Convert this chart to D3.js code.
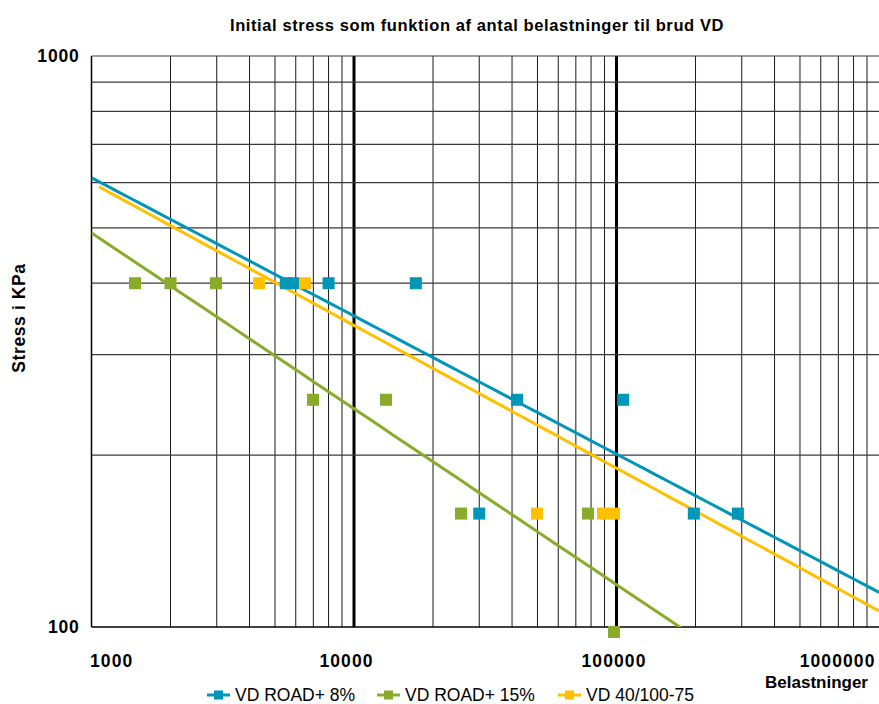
<!DOCTYPE html>
<html>
<head>
<meta charset="utf-8">
<script src="https://cdn.jsdelivr.net/npm/d3@7"></script>
<style>
  body { margin: 0; background: #fff; }
  svg { font-family: "Liberation Sans", Arial, sans-serif; }
</style>
</head>
<body>
<svg width="879" height="704"></svg>
<script>
// series
var seriesNames = ['VD ROAD+ 8%', 'VD ROAD+ 15%', 'VD 40/100-75'];
var seriesColors = ['#0096b8', '#8aab2a', '#ffc000'];

var road8N = [5500, 5900, 8000, 17200, 41800, 106000, 30000, 197000, 290000];
var road8S = [400, 400, 400, 400, 250, 250, 158, 158, 158];

var road15N = [1465, 2000, 2980, 6980, 13240, 25560, 77900, 97800];
var road15S = [400, 400, 400, 250, 250, 158, 158, 98];

var vd40N = [4350, 6500, 49800, 88800, 97800];
var vd40S = [400, 400, 158, 158, 158];

// power trendlines S = a * (N/1000)^b, with start of each line
var trendA = [612, 490, 600];
var trendB = [-0.242, -0.308, -0.25];
var trendStart = [1000, 1000, 1068];

var xTicks = [1000, 10000, 100000, 1000000];
var yTicks = [100, 1000];

var allN = [road8N, road15N, vd40N];
var allS = [road8S, road15S, vd40S];

var L = 91.5, R = 879, T = 56, B = 627;
var svg = d3.select('svg');

var x = d3.scaleLog().domain([1000, 1000000]).range([L, R]);
var y = d3.scaleLog().domain([100, 1000]).range([B, T]);

svg.append('defs').append('clipPath').attr('id', 'plot')
    .append('rect').attr('x', L).attr('y', T).attr('width', R - L).attr('height', B - T);

// grid
var grid = svg.append('g');
[100, 1000, 10000, 100000].forEach(function (dec) {
    for (var k = 2; k <= 9; k++) {
        var v = dec * k;
        if (v < 1000) continue;
        grid.append('line')
            .attr('x1', x(v)).attr('x2', x(v))
            .attr('y1', T).attr('y2', B)
            .attr('stroke', '#1a1a1a').attr('stroke-width', 1);
    }
});
[10000, 100000].forEach(function (v) {
    grid.append('line')
        .attr('x1', x(v)).attr('x2', x(v))
        .attr('y1', T).attr('y2', B)
        .attr('stroke', '#000').attr('stroke-width', 3);
});
for (var k = 2; k <= 10; k++) {
    grid.append('line')
        .attr('x1', L).attr('x2', R)
        .attr('y1', y(k * 100)).attr('y2', y(k * 100))
        .attr('stroke', '#3a3a3a').attr('stroke-width', 1.2);
}

// axes lines
svg.append('line').attr('x1', L).attr('x2', L).attr('y1', T).attr('y2', B)
    .attr('stroke', '#000').attr('stroke-width', 1.5);
svg.append('line').attr('x1', L).attr('x2', R).attr('y1', B).attr('y2', B)
    .attr('stroke', '#000').attr('stroke-width', 1.5);

// trendlines
var trends = svg.append('g').attr('clip-path', 'url(#plot)');
seriesNames.forEach(function (name, i) {
    var pts = d3.range(0, 61).map(function (j) {
        var n = trendStart[i] * Math.pow(1000000 / trendStart[i], j / 60);
        return [n, trendA[i] * Math.pow(n / 1000, trendB[i])];
    });
    trends.append('path')
        .attr('d', d3.line().x(function (d) { return x(d[0]); }).y(function (d) { return y(d[1]); })(pts))
        .attr('fill', 'none')
        .attr('stroke', seriesColors[i])
        .attr('stroke-width', 3);
});

// markers
seriesNames.forEach(function (name, i) {
    svg.append('g').selectAll('rect')
        .data(allN[i].map(function (n, j) { return [n, allS[i][j]]; }))
        .enter().append('rect')
        .attr('x', function (d) { return x(d[0]) - 6; })
        .attr('y', function (d) { return y(d[1]) - 6; })
        .attr('width', 12).attr('height', 12)
        .attr('fill', seriesColors[i]);
});

// x axis labels
var xAxis = d3.axisBottom(x).tickValues(xTicks).tickFormat(d3.format('d')).tickSize(0);
var gx = svg.append('g').attr('transform', 'translate(0,' + B + ')').call(xAxis);
gx.select('.domain').remove();
gx.selectAll('text')
    .attr('y', 28)
    .attr('font-size', 17.5).attr('font-weight', 'bold').attr('fill', '#000')
    .attr('letter-spacing', 1.1)
    .attr('font-family', '"Liberation Sans", Arial, sans-serif')
    .attr('text-anchor', function (d, i) { return i === 0 ? 'start' : (i === xTicks.length - 1 ? 'end' : 'middle'); })
    .attr('dx', function (d, i) { return i === 0 ? -2 : (i === 1 ? -8 : (i === 2 ? -3 : -4)); });

// y axis labels
var yAxis = d3.axisLeft(y).tickValues(yTicks).tickFormat(d3.format('d')).tickSize(0);
var gy = svg.append('g').attr('transform', 'translate(' + L + ',0)').call(yAxis);
gy.select('.domain').remove();
gy.selectAll('text')
    .attr('x', -12)
    .attr('font-size', 17.5).attr('font-weight', 'bold').attr('fill', '#000')
    .attr('letter-spacing', 0.8)
    .attr('font-family', '"Liberation Sans", Arial, sans-serif');

// titles
svg.append('text').attr('x', 477).attr('y', 31).attr('text-anchor', 'middle')
    .attr('font-size', 16.5).attr('font-weight', 'bold').attr('letter-spacing', 0.6)
    .text('Initial stress som funktion af antal belastninger til brud VD');
svg.append('text').attr('transform', 'translate(25,318) rotate(-90)').attr('text-anchor', 'middle')
    .attr('font-size', 17.5).attr('font-weight', 'bold').attr('letter-spacing', 0.6)
    .text('Stress i KPa');
svg.append('text').attr('x', 868).attr('y', 688).attr('text-anchor', 'end')
    .attr('font-size', 17).attr('font-weight', 'bold')
    .text('Belastninger');

// legend
var legX = [207, 377, 558];
var leg = svg.append('g');
seriesNames.forEach(function (name, i) {
    var g = leg.append('g').attr('transform', 'translate(' + legX[i] + ',695)');
    g.append('line').attr('x1', 0).attr('x2', 23).attr('y1', 0).attr('y2', 0)
        .attr('stroke', seriesColors[i]).attr('stroke-width', 3);
    g.append('rect').attr('x', 7).attr('y', -4.5).attr('width', 9).attr('height', 9)
        .attr('fill', seriesColors[i]);
    g.append('text').attr('x', 28).attr('y', 6).attr('font-size', 17.5).text(name);
});
</script>
</body>
</html>
